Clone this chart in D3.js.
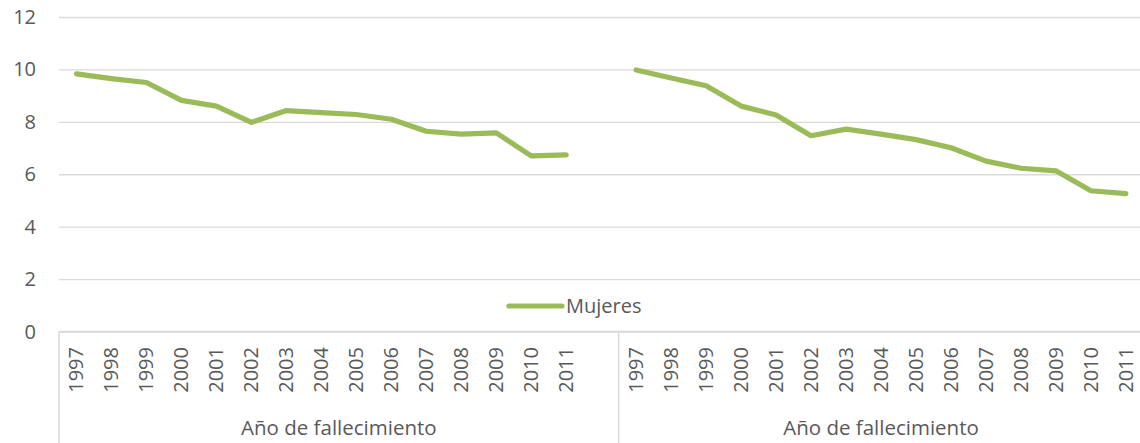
<!DOCTYPE html>
<html>
<head>
<meta charset="utf-8">
<script src="https://cdn.jsdelivr.net/npm/d3@7"></script>
<style>
    body { margin: 0; background: #fff; }
    svg { display: block; font-family: "Open Sans", sans-serif; }
    .grid line { stroke: #d9d9d9; stroke-width: 1.3; }
    .grid path { display: none; }
    .tick text, .label { fill: #595959; }
</style>
</head>
<body>
<svg width="1140" height="443"></svg>
<script>
// chart data
const years = ["1997", "1998", "1999", "2000", "2001", "2002", "2003", "2004", "2005", "2006", "2007", "2008", "2009", "2010", "2011"];
const groupLabels = ["Año de fallecimiento", "Año de fallecimiento"];
const seriesName = "Mujeres";
const valuesGroup1 = [9.83, 9.65, 9.5, 8.82, 8.6, 7.98, 8.43, 8.35, 8.28, 8.1, 7.64, 7.53, 7.58, 6.7, 6.74];
const valuesGroup2 = [9.98, 9.67, 9.38, 8.6, 8.26, 7.47, 7.72, 7.53, 7.32, 7.01, 6.5, 6.23, 6.13, 5.37, 5.26];
const yTicks = [0, 2, 4, 6, 8, 10, 12];

const svg = d3.select('svg');
const left = 59;
const step = 34.98;

// group 1 carries an empty slot at the end, like the source sheet
const cats = years.map(y => "a" + y).concat(["a_blank"]).concat(years.map(y => "b" + y));

const xScale = d3.scaleBand()
    .domain(cats)
    .range([left, left + step * cats.length])
    .paddingInner(0)
    .paddingOuter(0);

const yScale = d3.scaleLinear()
    .domain([0, 12])
    .range([331.5, 17]);

// horizontal grid lines
svg.append('g')
    .attr('class', 'grid')
    .attr('transform', `translate(${left}, 0)`)
    .call(d3.axisLeft(yScale)
        .tickValues(yTicks)
        .tickSize(-(1146 - left))
        .tickFormat(''));

// y labels
svg.append('g')
    .selectAll('text')
    .data(yTicks)
    .enter()
    .append('text')
    .attr('class', 'label')
    .attr('x', 36)
    .attr('y', d => yScale(d))
    .attr('dy', '0.35em')
    .attr('text-anchor', 'end')
    .style('font-size', '20px')
    .text(d => d);

// category axis: separators
const groupEdges = [xScale("a1997"), xScale("b1997")];
svg.append('g')
    .selectAll('line')
    .data(groupEdges)
    .enter()
    .append('line')
    .attr('x1', d => d)
    .attr('x2', d => d)
    .attr('y1', yScale(0))
    .attr('y2', 443)
    .attr('stroke', '#d9d9d9')
    .attr('stroke-width', 1.5);

// year labels, rotated
const yearCats = cats.filter(c => c !== "a_blank");
svg.append('g')
    .selectAll('text')
    .data(yearCats)
    .enter()
    .append('text')
    .attr('class', 'label')
    .attr('transform', c => `translate(${xScale(c) + xScale.bandwidth() / 2}, 347) rotate(-90)`)
    .attr('text-anchor', 'end')
    .attr('dy', '0.35em')
    .style('font-size', '20px')
    .text(c => c.slice(1));

// group labels
const groupCenters = [
    (xScale("a1997") + xScale("b1997")) / 2,
    (xScale("b1997") + xScale.range()[1]) / 2
];
svg.append('g')
    .selectAll('text')
    .data(groupLabels)
    .enter()
    .append('text')
    .attr('class', 'label')
    .attr('x', (d, i) => groupCenters[i])
    .attr('y', 435)
    .attr('text-anchor', 'middle')
    .style('font-size', '20.5px')
    .text(d => d);

// the series lines
const line = d3.line()
    .x(d => xScale(d.cat) + xScale.bandwidth() / 2)
    .y(d => yScale(d.value));

[["a", valuesGroup1], ["b", valuesGroup2]].forEach(([p, vals]) => {
    const pts = years.map((y, i) => ({ cat: p + y, value: vals[i] }));
    svg.append('path')
        .datum(pts)
        .attr('d', line)
        .attr('fill', 'none')
        .attr('stroke', '#9bbb59')
        .attr('stroke-width', 5.2)
        .attr('stroke-linejoin', 'round')
        .attr('stroke-linecap', 'round');
});

// axis line at zero
svg.append('line')
    .attr('x1', left)
    .attr('x2', 1146)
    .attr('y1', yScale(0))
    .attr('y2', yScale(0))
    .attr('stroke', '#d9d9d9')
    .attr('stroke-width', 1.5);

// legend
const legend = svg.append('g');
legend.append('line')
    .attr('x1', 509)
    .attr('x2', 562)
    .attr('y1', 306)
    .attr('y2', 306)
    .attr('stroke', '#9bbb59')
    .attr('stroke-width', 5.2)
    .attr('stroke-linecap', 'round');
legend.append('text')
    .attr('class', 'label')
    .attr('x', 566)
    .attr('y', 306)
    .attr('dy', '0.35em')
    .style('font-size', '20px')
    .text(seriesName);
</script>
</body>
</html>
